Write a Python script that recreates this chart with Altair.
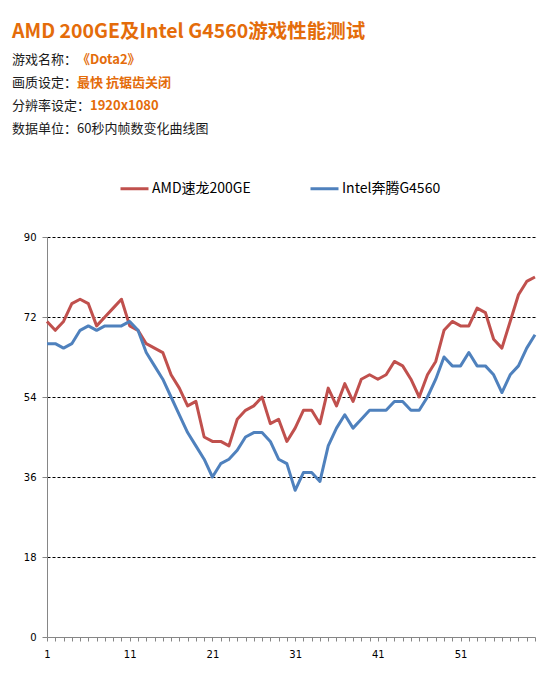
import altair as alt
import pandas as pd

# ---- data ----
seconds = list(range(1, 61))
amd_fps = [71, 69, 71, 75, 76, 75, 70, 72, 74, 76,
           70, 69, 66, 65, 64, 59, 56, 52, 53, 45,
           44, 44, 43, 49, 51, 52, 54, 48, 49, 44,
           47, 51, 51, 48, 56, 52, 57, 53, 58, 59,
           58, 59, 62, 61, 58, 54, 59, 62, 69, 71,
           70, 70, 74, 73, 67, 65, 71, 77, 80, 81]
intel_fps = [66, 66, 65, 66, 69, 70, 69, 70, 70, 70,
             71, 69, 64, 61, 58, 54, 50, 46, 43, 40,
             36, 39, 40, 42, 45, 46, 46, 44, 40, 39,
             33, 37, 37, 35, 43, 47, 50, 47, 49, 51,
             51, 51, 53, 53, 51, 51, 54, 58, 63, 61,
             61, 64, 61, 61, 59, 55, 59, 61, 65, 68]
series_names = ["AMD速龙200GE", "Intel奔腾G4560"]
series_colors = ["#C0504D", "#4F81BD"]
y_ticks = [0, 18, 36, 54, 72, 90]
x_labelled = [1, 11, 21, 31, 41, 51]

title_text = "AMD 200GE及Intel G4560游戏性能测试"
info_labels = ["游戏名称：", "画质设定：", "分辨率设定：", "数据单位：60秒内帧数变化曲线图"]
info_values = ["《Dota2》", "最快 抗锯齿关闭", "1920x1080", ""]

ORANGE = "#E46C0A"
CJK = "Noto Sans CJK SC"
AXF = "DejaVu Sans"

df = pd.DataFrame({
    "sec": seconds * 2,
    "fps": amd_fps + intel_fps,
    "series": [series_names[0]] * len(amd_fps) + [series_names[1]] * len(intel_fps),
})

label_test = " || ".join(f"datum.value == {v}" for v in x_labelled)

lines = alt.Chart(df).mark_line(strokeWidth=3, strokeJoin="round").encode(
    x=alt.X("sec:Q",
            scale=alt.Scale(domain=[1, 60], nice=False, zero=False),
            axis=alt.Axis(values=seconds, title=None, grid=False,
                          labelExpr=f"({label_test}) ? datum.label : ''",
                          tickSize=4, tickColor="#868686", domainColor="#868686",
                          labelFont=AXF, labelFontSize=10, labelColor="#000",
                          labelPadding=8, labelFlush=False)),
    y=alt.Y("fps:Q",
            scale=alt.Scale(domain=[0, 90], nice=False),
            axis=alt.Axis(values=y_ticks, title=None, grid=True,
                          gridColor="#000", gridDash=[3, 2], gridWidth=1,
                          gridOpacity={"condition": {"test": "datum.value === 0", "value": 0}, "value": 1},
                          tickSize=5, tickColor="#868686", domainColor="#868686",
                          labelFont=AXF, labelFontSize=10, labelColor="#000",
                          labelPadding=6)),
    color=alt.Color("series:N",
                    scale=alt.Scale(domain=series_names, range=series_colors),
                    legend=alt.Legend(title=None, orient="none", legendX=72, legendY=-64,
                                      direction="horizontal", symbolType="stroke",
                                      symbolSize=784, symbolStrokeWidth=3,
                                      labelFont=CJK, labelFontSize=14, labelColor="#000",
                                      labelOffset=2, columnPadding=53, labelLimit=300)),
)

layers = [lines]

title_mark = alt.Chart(pd.DataFrame({"t": [title_text]})).mark_text(
    font=CJK, fontSize=19.5, fontWeight="bold", color=ORANGE, align="left", baseline="alphabetic"
).encode(text="t:N", x=alt.value(-35), y=alt.value(-199))
layers.append(title_mark)

baselines = [-173, -150, -127, -104]
value_x = [30, 30, 43, 0]
for lab, val, by, vx in zip(info_labels, info_values, baselines, value_x):
    layers.append(alt.Chart(pd.DataFrame({"t": [lab]})).mark_text(
        font=CJK, fontSize=13, color="#1a1a1a", align="left", baseline="alphabetic"
    ).encode(text="t:N", x=alt.value(-35), y=alt.value(by)))
    if val:
        layers.append(alt.Chart(pd.DataFrame({"t": [val]})).mark_text(
            font=CJK, fontSize=13, fontWeight="bold", color=ORANGE, align="left", baseline="alphabetic"
        ).encode(text="t:N", x=alt.value(vx), y=alt.value(by)))

chart = alt.layer(*layers).properties(
    width=488, height=400,
    autosize=alt.AutoSizeParams(type="none"),
    padding={"left": 39, "top": 229, "right": 7, "bottom": 35},
).configure_view(strokeWidth=0)

chart.save("out.html", embed_options={"renderer": "svg", "actions": False})
